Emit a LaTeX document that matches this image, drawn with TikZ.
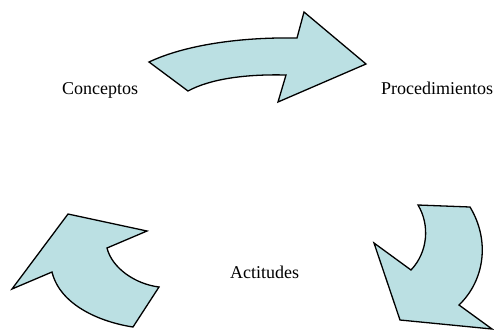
\documentclass[tikz,border=0pt]{standalone}
\usepackage{fontspec}
\setmainfont{Liberation Serif}
\definecolor{arrowfill}{RGB}{187,224,227}
\begin{document}
\begin{tikzpicture}[x=1pt,y=-1pt,
  arrowshape/.style={draw=black,fill=arrowfill,line width=1.3pt,line join=miter},
  lbl/.style={inner sep=0pt,anchor=base west,font=\fontsize{18}{20}\selectfont}]
\useasboundingbox (0,0) rectangle (494,330);
% top arrow
\path[arrowshape] (149,62) .. controls (185,45) and (240,37) .. (297,38)
  -- (304,12) -- (366,64) -- (278,102) -- (286,75)
  .. controls (245,74) and (210,79) .. (188,91) -- cycle;
% bottom right arrow
\path[arrowshape] (418,205) -- (470,207)
  .. controls (490,240) and (485,280) .. (459,305)
  -- (492,329) -- (400,320) -- (374,243) -- (411,270)
  .. controls (428,252) and (430,225) .. (418,205) -- cycle;
% bottom left arrow
\path[arrowshape] (68,214) -- (147,231) -- (107,248)
  .. controls (112,268) and (135,284) .. (159,287)
  -- (133,327) .. controls (100,322) and (60,305) .. (52,272)
  -- (12,289) -- cycle;
\node[lbl] (conceptos) at (62,94) {Conceptos};
\node[lbl] (procedimientos) at (381,94) {Procedimientos};
\node[lbl] (actitudes) at (230,278) {Actitudes};
\end{tikzpicture}
\end{document}
